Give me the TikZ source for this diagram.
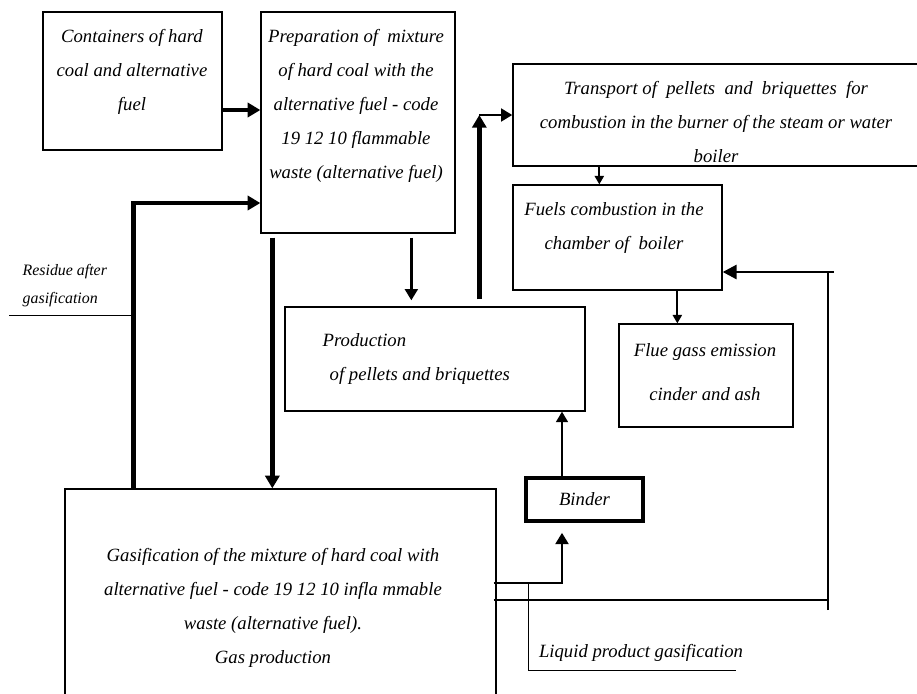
\documentclass[tikz,border=0pt]{standalone}
\usepackage{fontspec}
\setmainfont{Liberation Serif}
\usetikzlibrary{calc, positioning, arrows.meta}

\tikzset{
    box/.style={draw, line width=0.9pt, inner sep=0pt},
    txt/.style={align=center, font=\fontsize{13.3}{24.2}\selectfont\itshape},
    fat/.style={line width=3.2pt, -{Triangle[length=9pt,width=10pt]}},
    mid/.style={line width=2pt, -{Triangle[length=8pt,width=9pt]}},
    slim/.style={line width=1.3pt, -{Triangle[length=6pt,width=6.5pt]}},
    loopline/.style={line width=2pt},
    hair/.style={line width=0.7pt},
}

\begin{document}
\begin{tikzpicture}[x=0.025cm, y=-0.025cm, every node/.style={inner sep=1pt}]
    \useasboundingbox (0,0) rectangle (917,693);

    % 1. the process boxes (pixel grid, y grows downwards)
    \foreach \n/\x/\y/\w/\h in {cont/132.5/81/4.475/3.45, prep/358/122.5/4.85/5.525,
        trans/717/115/10.2/2.55, fuel/617.5/237.5/5.225/2.625,
        prod/435/359/7.5/2.6, flue/706/375.5/4.35/2.575,
        gas/280.5/604.5/10.775/5.775} {
        \node[box, minimum width=\w cm, minimum height=\h cm] (\n) at (\x,\y) {};
    }
    \node[box, line width=2.5pt, minimum width=2.925cm, minimum height=1.075cm] (binder) at (584.5,499.5) {};

    % 2. the texts
    \node[txt] (contT) at (132,72) {Containers of hard\\coal and alternative\\fuel};
    \node[txt] (prepT) at (356,106) {Preparation of \ mixture\\of hard coal with the\\ alternative fuel - code\\19 12 10 flammable\\waste (alternative fuel)};
    \node[txt] (transT) at (716,122) {Transport of \ pellets \ and \ briquettes \ for\\combustion in the burner of the steam or water\\boiler};
    \node[txt] (fuelT) at (614,228) {Fuels combustion in the\\chamber of \ boiler};
    \node[txt, align=left, anchor=west] (prodT) at (321,359) {Production\\ \hspace*{5pt}of pellets and briquettes};
    \node[txt] (flueT) at (705,372) {Flue gass emission\\[7pt]cinder and ash};
    \node[txt] (bindT) at (binder) {Binder};
    \node[txt] (gasT) at (273,608) {Gasification of the mixture of hard coal with\\alternative fuel - code 19 12 10 infla mmable\\waste (alternative fuel).\\Gas production};
    \node[align=left, anchor=west, font=\fontsize{11.3}{20}\selectfont\itshape] (resT) at (21,286) {Residue after\\gasification};
    \node[txt] (liqT) at (641,653) {Liquid product gasification};

    % 3. feed of the mixture
    \draw[fat] ($(cont.east)+(0,29)$) coordinate (c1) -- (c1 -| prep.west);
    \draw[fat] ($(gas.north west)+(69,0)$) |- ($(prep.west)+(0,80.5)$);
    \coordinate (resid) at (9,315);
    \draw[hair] (resid) -- ++(125,0);
    \draw[fat] ($(prep.south west)+(12,4)$) coordinate (c2) -- (c2 |- gas.north);
    \draw[mid] ($(prep.south west)+(151,4)$) coordinate (c3) -- ($(c3 |- prod.north)+(0,-6)$);

    % 4. pellets to the boiler
    \draw[fat] ($(prod.north west)+(195,-7)$) coordinate (c4) -- (c4 |- trans.west);
    \draw[mid] (c4 |- trans.west) -- (trans.west);
    \draw[slim] ($(trans.south west)+(87,0)$) coordinate (c5) -- (c5 |- fuel.north);
    \draw[slim] ($(fuel.south west)+(165,0)$) coordinate (c6) -- (c6 |- flue.north);

    % 5. gas back to the boiler
    \coordinate (rtop) at (828,272);
    \draw[loopline] ($(gas.east)+(-3,-4.5)$) -- ($(rtop)+(0,328)$);
    \draw[loopline] ($(rtop)+(0,338)$) -- (rtop) -- ++(6,0);
    \draw[loopline, -{Triangle[length=10pt,width=10pt]}] (rtop) -- (rtop -| fuel.east);

    % 6. binder branch and liquid product
    \draw[mid] ($(gas.east)+(-3,-21.5)$) coordinate (c7) -| ($(binder.south)+(-22.5,10)$);
    \draw[slim, -{Triangle[length=7.5pt,width=8.5pt]}] ($(binder.north)+(-22.5,0)$) coordinate (c8) -- (c8 |- prod.south);
    \coordinate (liq) at ($(c7)+(35,0)$);
    \draw[hair] (liq) |- ++(207,87);

\end{tikzpicture}
\end{document}
